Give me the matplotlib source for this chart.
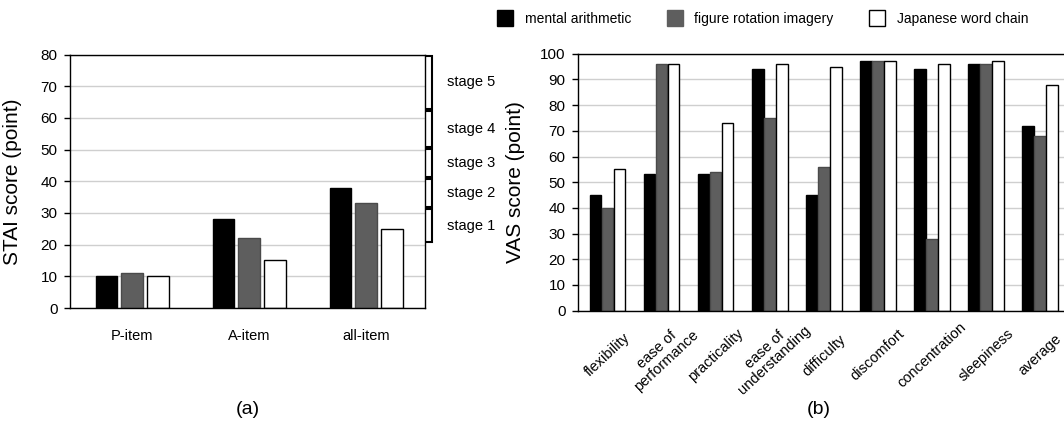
import matplotlib
matplotlib.use("Agg")
import matplotlib.pyplot as plt
from matplotlib.patches import Patch
from matplotlib.transforms import blended_transform_factory
import numpy as np

plt.rcParams['font.family'] = ['Liberation Sans', 'DejaVu Sans']

# ---------------- data ----------------
series_names = ["mental arithmetic", "figure rotation imagery", "Japanese word chain"]
series_colors = ["#000000", "#5e5e5e", "#ffffff"]

stai_categories = ["P-item", "A-item", "all-item"]
stai_mental = [10, 28, 38]
stai_figure = [11, 22, 33]
stai_word = [10, 15, 25]

stage_labels = ["stage 1", "stage 2", "stage 3", "stage 4", "stage 5"]
stage_bounds = [20.5, 31.5, 41, 50.5, 62.5, 80]

vas_categories = ["flexibility", "ease of\nperformance", "practicality", "ease of\nunderstanding",
                  "difficulty", "discomfort", "concentration", "sleepiness", "average"]
vas_mental = [45, 53, 53, 94, 45, 97, 94, 96, 72]
vas_figure = [40, 96, 54, 75, 56, 97, 28, 96, 68]
vas_word = [55, 96, 73, 96, 95, 97, 96, 97, 88]

stai_ticks = [0, 10, 20, 30, 40, 50, 60, 70, 80]
vas_ticks = [0, 10, 20, 30, 40, 50, 60, 70, 80, 90, 100]

# ---------------- figure ----------------
fig = plt.figure(figsize=(10.64, 4.24), dpi=100)
fig.patch.set_facecolor("white")

grid_color = "#cfcfcf"


def style_axes(ax):
    for s in ax.spines.values():
        s.set_color("#000000")
        s.set_linewidth(1.0)
    ax.set_axisbelow(True)
    ax.yaxis.grid(True, color=grid_color, linewidth=1.0)
    ax.xaxis.grid(False)
    ax.tick_params(axis='y', direction='out', length=4, width=1.0, pad=5, labelsize=11)
    ax.tick_params(axis='x', length=0)


# ---- left panel (a) ----
axL = fig.add_axes([70 / 1064, 1 - 308 / 424, 355 / 1064, (308 - 54.6) / 424])
style_axes(axL)
xL = np.arange(len(stai_categories))
wL, offL = 0.18, 0.222
for k, (vals, col) in enumerate(zip([stai_mental, stai_figure, stai_word], series_colors)):
    axL.bar(xL + (k - 1) * offL, vals, width=wL, color=col,
            edgecolor="#000000" if k != 1 else "#4a4a4a", linewidth=1.0)
axL.set_xlim(-0.53, 2.504)
axL.set_ylim(0, 80)
axL.set_yticks(stai_ticks)
axL.set_xticks(xL)
axL.set_xticklabels(stai_categories, fontsize=10.5)
axL.tick_params(axis='x', pad=15)
axL.set_ylabel("STAI score (point)", fontsize=15)
axL.yaxis.set_label_coords(-0.135, 0.5)

# stage brackets
tr = blended_transform_factory(axL.transAxes, axL.transData)
xb0, xb1 = 1.006, 1.019
for i, lab in enumerate(stage_labels):
    lo, hi = stage_bounds[i], stage_bounds[i + 1]
    axL.plot([xb0, xb1, xb1, xb0], [hi - 0.3, hi - 0.3, lo + 0.3, lo + 0.3],
             transform=tr, color="#000000", linewidth=1.5, clip_on=False,
             solid_joinstyle='miter')
    axL.text(1.062, (lo + hi) / 2, lab, transform=tr, ha='left', va='center', fontsize=10.5)

# ---- right panel (b) ----
axR = fig.add_axes([578 / 1064, 1 - 310.7 / 424, 492 / 1064, (310.7 - 53.7) / 424])
style_axes(axR)
xR = np.arange(len(vas_categories))
wR, offR = 0.215, 0.222
for k, (vals, col) in enumerate(zip([vas_mental, vas_figure, vas_word], series_colors)):
    axR.bar(xR + (k - 1) * offR, vals, width=wR, color=col,
            edgecolor="#000000" if k != 1 else "#4a4a4a", linewidth=1.0)
axR.set_xlim(-0.545, 8.55)
axR.set_ylim(0, 100)
axR.set_yticks(vas_ticks)
axR.set_xticks(xR)
axR.set_xticklabels(vas_categories, fontsize=10.5, rotation=43,
                    ha='center', va='center', multialignment='center',
                    rotation_mode='default', linespacing=1.05)
axR.tick_params(axis='x', pad=32)
axR.set_ylabel("VAS score (point)", fontsize=15)
axR.yaxis.set_label_coords(-0.108, 0.5)

# legend
handles = [Patch(facecolor=c, edgecolor="#000000" if i != 1 else "#5e5e5e", linewidth=1.0)
           for i, c in enumerate(series_colors)]
fig.legend(handles, series_names, loc='center left', bbox_to_anchor=(497 / 1064, 1 - 18 / 424),
           ncol=3, frameon=False, fontsize=10, handlelength=1.15, handleheight=1.3,
           handletextpad=0.85, columnspacing=2.55, borderaxespad=0, borderpad=0)

fig.text(248 / 1064, 1 - 409 / 424, "(a)", ha='center', va='center', fontsize=14)
fig.text(819 / 1064, 1 - 409 / 424, "(b)", ha='center', va='center', fontsize=14)

fig.savefig("out.png", dpi=100, facecolor="white")
